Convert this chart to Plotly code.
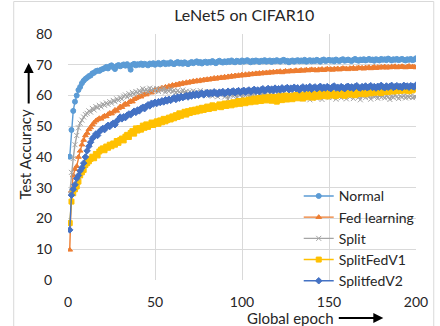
import plotly.graph_objects as go

epochs = list(range(1, 201))

normal = [
 40.1, 48.8, 55.0, 58.0, 60.0, 61.8, 62.8, 64.0, 64.8, 65.4,
 65.8, 66.3, 66.5, 67.2, 67.4, 67.9, 68.1, 68.0, 68.4, 68.6,
 68.9, 69.3, 68.8, 69.5, 69.8, 69.2, 68.6, 69.6, 69.9, 69.5,
 69.8, 70.1, 69.7, 70.2, 69.6, 68.4, 70.0, 70.3, 69.8, 70.2,
 70.0, 70.4, 69.9, 70.3, 70.1, 69.8, 70.4, 70.2, 70.5, 70.0,
 70.3, 70.6, 70.1, 70.4, 70.7, 70.2, 70.5, 70.3, 70.8, 70.4,
 70.2, 70.6, 70.9, 70.4, 70.7, 70.3, 70.8, 70.5, 70.2, 70.6,
 70.9, 70.5, 70.8, 71.1, 70.6, 70.9, 70.4, 70.8, 71.0, 70.6,
 70.9, 70.7, 71.2, 70.8, 70.5, 71.0, 71.3, 70.9, 70.7, 71.1,
 70.8, 71.2, 70.9, 71.4, 71.0, 70.8, 71.3, 71.1, 70.9, 71.4,
 71.0, 71.2, 71.5, 71.1, 70.8, 71.3, 71.0, 71.4, 71.2, 70.9,
 71.3, 71.1, 71.5, 71.0, 71.2, 71.4, 70.9, 71.3, 71.1, 71.5,
 71.2, 71.0, 71.4, 71.6, 71.1, 71.3, 70.8, 71.2, 71.4, 71.0,
 71.3, 71.5, 71.1, 71.4, 71.2, 71.6, 71.0, 71.3, 71.5, 71.1,
 71.4, 71.2, 71.6, 71.3, 71.0, 71.5, 71.7, 71.2, 71.4, 71.6,
 71.3, 71.5, 71.1, 71.7, 71.4, 71.2, 71.6, 71.8, 71.3, 71.5,
 71.7, 71.4, 71.2, 71.6, 71.9, 71.5, 71.3, 71.7, 71.5, 71.8,
 71.4, 71.6, 71.9, 71.5, 71.7, 71.3, 71.8, 71.6, 71.4, 71.9,
 71.6, 71.8, 71.5, 72.0, 71.7, 71.4, 71.8, 71.6, 71.9, 71.5,
 71.7, 71.9, 71.6, 71.4, 71.8, 71.6, 71.9, 71.5, 71.7, 72.1,
]

fed_learning = [
 9.8, 29.0, 34.0, 36.0, 37.0, 40.0, 42.0, 44.0, 45.5, 47.0,
 47.8, 49.0, 49.6, 50.5, 51.2, 51.8, 52.2, 52.6, 52.4, 53.0,
 53.4, 53.2, 53.9, 54.3, 54.1, 54.7, 55.3, 55.0, 55.8, 56.4,
 56.2, 56.9, 57.3, 57.0, 57.8, 58.2, 58.0, 58.8, 59.1, 59.4,
 59.8, 59.6, 60.2, 60.5, 60.3, 60.9, 61.2, 60.9, 61.6, 61.9,
 61.7, 62.2, 62.0, 62.5, 62.3, 62.8, 62.6, 63.1, 62.9, 63.4,
 63.2, 63.6, 63.4, 63.9, 63.7, 64.1, 63.9, 64.3, 64.1, 64.5,
 64.3, 64.7, 64.5, 64.9, 64.6, 65.0, 64.8, 65.2, 65.0, 65.3,
 65.1, 65.5, 65.3, 65.7, 65.4, 65.8, 65.6, 65.9, 65.7, 66.1,
 65.8, 66.2, 66.0, 66.4, 66.1, 66.5, 66.3, 66.6, 66.4, 66.8,
 66.5, 66.9, 66.6, 67.0, 66.8, 67.1, 66.9, 67.2, 67.0, 67.3,
 67.1, 67.4, 67.2, 67.5, 67.3, 67.6, 67.4, 67.7, 67.5, 67.8,
 67.6, 67.9, 67.5, 67.8, 68.0, 67.7, 67.9, 68.1, 67.8, 68.0,
 68.2, 67.9, 68.1, 68.3, 68.0, 68.2, 68.4, 68.1, 68.3, 68.5,
 68.2, 68.4, 68.1, 68.5, 68.3, 68.6, 68.2, 68.5, 68.7, 68.4,
 68.6, 68.3, 68.7, 68.5, 68.8, 68.4, 68.7, 68.9, 68.6, 68.8,
 68.5, 68.9, 68.7, 69.0, 68.6, 68.9, 69.1, 68.8, 69.0, 68.7,
 69.1, 68.9, 69.2, 68.8, 69.1, 69.3, 68.9, 69.2, 69.0, 69.3,
 69.1, 69.4, 69.0, 69.3, 69.1, 69.4, 69.2, 69.5, 69.1, 69.4,
 69.2, 69.5, 69.3, 69.1, 69.4, 69.6, 69.2, 69.4, 69.3, 69.1,
]

split = [
 28.0, 35.0, 39.5, 44.0, 47.0, 49.5, 51.0, 52.0, 53.0, 53.8,
 54.2, 55.0, 54.6, 55.8, 55.3, 56.4, 56.0, 56.8, 56.3, 57.2,
 56.8, 57.6, 57.1, 58.0, 57.5, 58.4, 58.0, 58.9, 58.4, 59.3,
 58.8, 59.8, 60.2, 59.5, 60.6, 60.0, 61.0, 60.4, 61.3, 60.8,
 61.6, 61.0, 62.2, 61.4, 62.0, 61.2, 62.4, 61.6, 62.2, 61.5,
 62.3, 61.3, 62.0, 61.6, 62.4, 61.1, 61.8, 61.4, 62.1, 61.2,
 61.7, 60.9, 61.6, 61.2, 60.6, 61.8, 60.8, 61.4, 60.5, 61.3,
 60.7, 61.5, 60.3, 61.1, 60.6, 61.6, 60.2, 61.0, 60.5, 61.3,
 60.1, 60.9, 59.8, 61.2, 60.4, 59.6, 60.8, 60.2, 61.0, 59.5,
 60.6, 58.8, 60.3, 61.0, 59.7, 60.5, 59.2, 60.8, 60.1, 59.4,
 60.7, 60.0, 61.1, 59.6, 60.4, 59.0, 60.9, 60.2, 59.5, 60.6,
 60.0, 61.0, 59.3, 60.5, 59.8, 60.8, 59.4, 60.3, 59.9, 60.7,
 59.2, 60.4, 59.8, 60.9, 59.5, 60.2, 59.0, 60.6, 59.7, 60.3,
 59.4, 60.8, 59.9, 60.1, 58.9, 60.5, 59.6, 60.2, 58.6, 60.0,
 59.5, 60.7, 59.1, 60.3, 59.8, 58.7, 60.4, 59.6, 60.1, 59.3,
 60.0, 59.4, 60.6, 58.8, 59.9, 60.3, 59.2, 60.5, 59.7, 58.9,
 60.2, 59.5, 60.4, 59.0, 59.8, 60.3, 59.4, 58.6, 59.9, 60.1,
 59.3, 60.0, 59.6, 58.8, 60.2, 59.5, 59.9, 59.1, 60.3, 59.4,
 59.8, 59.2, 60.0, 59.5, 58.7, 59.9, 59.3, 60.1, 59.6, 59.0,
 59.8, 59.4, 60.0, 59.2, 59.7, 59.5, 59.9, 59.3, 59.6, 59.5,
]

splitfed_v1 = [
 18.5, 25.5, 28.2, 29.5, 30.4, 32.0, 34.0, 35.0, 35.8, 37.4,
 38.0, 38.6, 39.4, 40.1, 39.6, 41.0, 40.5, 41.8, 42.4, 42.8,
 42.2, 43.4, 43.0, 44.0, 43.5, 44.4, 44.0, 45.2, 44.6, 45.5,
 46.0, 45.4, 46.6, 47.2, 46.5, 47.8, 48.4, 47.6, 49.3, 48.6,
 49.4, 48.9, 50.2, 49.5, 50.6, 49.8, 50.4, 51.2, 50.4, 51.0,
 51.6, 50.8, 51.9, 51.3, 52.4, 51.6, 52.0, 52.8, 52.2, 53.2,
 52.6, 53.6, 53.0, 54.2, 53.4, 54.0, 54.7, 53.8, 54.9, 54.3,
 55.2, 54.6, 55.4, 54.8, 55.7, 55.1, 56.0, 55.3, 55.8, 56.4,
 55.6, 56.2, 56.8, 55.9, 56.5, 56.4, 57.1, 56.2, 56.9, 57.4,
 56.6, 57.2, 57.5, 56.8, 57.8, 57.1, 57.6, 58.2, 57.3, 57.9,
 58.4, 57.5, 58.1, 58.7, 57.8, 58.3, 59.0, 58.0, 58.6, 59.2,
 58.2, 58.8, 59.4, 58.4, 59.0, 59.6, 58.3, 58.9, 59.5, 58.0,
 58.6, 59.8, 58.5, 59.2, 60.0, 58.7, 59.3, 59.9, 58.8, 59.5,
 60.2, 59.1, 59.7, 60.3, 59.0, 59.6, 60.4, 59.4, 60.0, 60.6,
 59.3, 59.9, 60.5, 59.6, 60.8, 59.8, 60.3, 60.9, 59.7, 60.4,
 61.0, 60.0, 60.6, 59.8, 60.4, 61.1, 60.2, 60.7, 59.9, 60.5,
 61.2, 60.3, 60.8, 61.4, 60.1, 60.6, 61.3, 60.5, 61.0, 61.6,
 60.4, 61.1, 61.7, 60.7, 61.3, 60.9, 61.8, 61.0, 61.5, 60.8,
 61.6, 61.2, 61.9, 61.1, 61.7, 62.0, 61.3, 61.8, 61.4, 62.1,
 61.5, 62.0, 61.6, 62.3, 61.8, 61.4, 62.1, 61.7, 62.2, 62.4,
]

splitfed_v2 = [
 16.3, 27.6, 29.5, 31.0, 33.0, 34.0, 35.5, 36.5, 38.0, 40.0,
 42.0, 43.5, 44.8, 46.0, 46.6, 47.5, 47.0, 48.2, 48.8, 49.3,
 48.9, 49.8, 50.3, 49.9, 50.6, 51.0, 50.5, 51.6, 52.2, 53.0,
 52.4, 53.1, 52.8, 53.6, 54.0, 53.7, 54.4, 54.9, 54.5, 55.3,
 55.0, 55.8, 56.2, 55.7, 56.5, 57.0, 56.6, 57.5, 57.2, 57.8,
 57.4, 58.0, 57.7, 58.3, 57.9, 58.6, 58.2, 58.8, 58.4, 58.9,
 59.3, 58.7, 59.5, 59.1, 59.7, 59.3, 59.6, 60.0, 59.5, 60.2,
 59.8, 60.4, 60.0, 60.6, 60.1, 60.5, 60.8, 60.2, 60.7, 61.0,
 60.4, 60.9, 60.6, 61.2, 60.7, 60.5, 61.1, 60.8, 61.3, 60.6,
 61.0, 61.4, 60.8, 61.2, 61.5, 60.9, 61.3, 61.6, 61.0, 61.4,
 61.7, 61.1, 61.5, 61.8, 61.2, 61.6, 62.0, 61.4, 61.8, 61.3,
 61.9, 62.2, 61.5, 61.9, 62.3, 61.7, 62.1, 61.6, 62.4, 61.9,
 62.2, 61.8, 62.5, 62.0, 62.3, 62.6, 61.9, 62.4, 62.1, 62.7,
 62.2, 62.5, 61.8, 62.4, 62.8, 62.1, 62.6, 62.3, 62.9, 62.0,
 62.5, 62.8, 62.2, 62.6, 63.0, 62.3, 62.7, 62.4, 62.9, 62.5,
 62.2, 62.8, 63.1, 62.4, 62.7, 62.3, 62.9, 62.6, 62.2, 62.8,
 63.0, 62.5, 62.8, 62.3, 62.9, 63.2, 62.6, 62.4, 62.9, 62.7,
 63.1, 62.5, 62.8, 63.2, 62.6, 62.9, 62.4, 63.0, 62.7, 63.3,
 62.8, 62.5, 63.1, 62.7, 63.0, 63.3, 62.6, 62.9, 63.2, 62.8,
 63.0, 62.6, 63.3, 62.9, 63.1, 62.7, 63.2, 63.0, 62.8, 63.4,
]

series_names = ["Normal", "Fed learning", "Split", "SplitFedV1", "SplitfedV2"]
series_values = [normal, fed_learning, split, splitfed_v1, splitfed_v2]
series_colors = ["#5B9BD5", "#ED7D31", "#A5A5A5", "#FFC000", "#4472C4"]
series_symbols = ["circle", "triangle-up", "x-thin-open", "square", "diamond"]
series_sizes = [5, 5, 5, 5, 5]

x_ticks = [0, 50, 100, 150, 200]
y_ticks = [0, 10, 20, 30, 40, 50, 60, 70, 80]

FONT = "Lato, 'Open Sans', sans-serif"
TXT = "#262626"

fig = go.Figure()
for name, vals, col, sym, sz in zip(series_names, series_values, series_colors,
                                    series_symbols, series_sizes):
    fig.add_trace(go.Scatter(
        x=epochs, y=vals, name=name, mode="lines+markers",
        line=dict(color=col, width=1.4),
        marker=dict(color=col, symbol=sym, size=sz,
                    line=dict(color=col, width=1)),
    ))

fig.update_layout(
    width=440, height=326,
    margin=dict(l=68, r=20, t=34, b=46),
    paper_bgcolor="white", plot_bgcolor="white",
    font=dict(family=FONT, size=14, color=TXT),
    title=dict(text="LeNet5 on CIFAR10", x=0.555, xanchor="center",
               y=0.953, yanchor="middle",
               font=dict(family=FONT, size=16, color=TXT)),
    showlegend=True,
    legend=dict(x=0.663, y=0.405, xanchor="left", yanchor="top",
                bgcolor="rgba(255,255,255,0)", borderwidth=0,
                font=dict(family=FONT, size=14, color=TXT),
                itemwidth=30, tracegroupgap=0),
)

fig.update_xaxes(range=[0, 200], tickvals=x_ticks, showgrid=True,
                 gridcolor="#D9D9D9", gridwidth=1, zeroline=False,
                 showline=False, ticks="outside", ticklen=9,
                 tickcolor="rgba(0,0,0,0)",
                 tickfont=dict(family=FONT, size=14, color=TXT))
fig.update_yaxes(range=[0, 80], tickvals=y_ticks, showgrid=True,
                 gridcolor="#D9D9D9", gridwidth=1, zeroline=False,
                 showline=False, ticks="outside", ticklen=12,
                 tickcolor="rgba(0,0,0,0)",
                 tickfont=dict(family=FONT, size=14, color=TXT))

# axis titles with arrows
fig.add_annotation(text="Test Accuracy", xref="paper", yref="paper",
                   x=-0.122, y=0.512, xanchor="center", yanchor="middle",
                   textangle=-90, showarrow=False,
                   font=dict(family=FONT, size=15, color=TXT))
fig.add_annotation(text="", xref="paper", yref="paper",
                   x=-0.113, y=0.882, ax=0, ay=42, showarrow=True,
                   arrowhead=2, arrowsize=1, arrowwidth=2, arrowcolor="black")
fig.add_annotation(text="Global epoch", xref="paper", yref="paper",
                   x=0.639, y=-0.1545, xanchor="center", yanchor="middle",
                   showarrow=False,
                   font=dict(family=FONT, size=15, color=TXT))
fig.add_annotation(text="", xref="paper", yref="paper",
                   x=0.906, y=-0.1545, ax=-46, ay=0, showarrow=True,
                   arrowhead=2, arrowsize=1, arrowwidth=2, arrowcolor="black")

# chart border
fig.add_shape(type="rect", xref="paper", yref="paper",
              x0=-0.156, x1=1.051, y0=-0.25, y1=1.132,
              line=dict(color="#D9D9D9", width=1), fillcolor="rgba(0,0,0,0)",
              layer="below")

fig.write_html("out.html")
